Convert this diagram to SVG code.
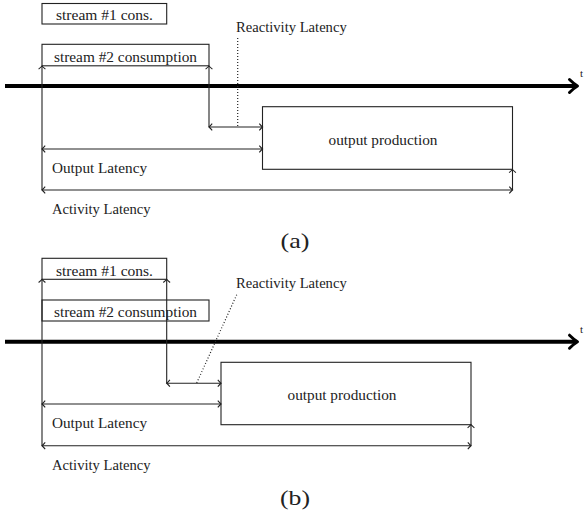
<svg xmlns="http://www.w3.org/2000/svg" width="584" height="517" viewBox="0 0 584 517">
  <style>
    .box { fill: #fff; stroke: #222; stroke-width: 1.1; }
    .dim { fill: none; stroke: #222; stroke-width: 1.1; marker-end: url(#tip); }
    .dim2 { fill: none; stroke: #222; stroke-width: 1.1; marker-start: url(#tip); marker-end: url(#tip); }
    .dot { fill: none; stroke: #222; stroke-width: 1.2; stroke-dasharray: 1 2; }
    .axis { fill: none; stroke: #000; stroke-width: 4; }
    .head { fill: none; stroke: #000; stroke-width: 3; stroke-linecap: round; stroke-linejoin: round; }
    text { font-family: "Liberation Serif", "DejaVu Serif", serif; font-size: 14px; fill: #222; }
    .mid { text-anchor: middle; }
    .cap { font-size: 22px; }
    .t { font-size: 11px; }
  </style>
  <defs>
    <marker id="tip" markerUnits="userSpaceOnUse" markerWidth="10" markerHeight="10" viewBox="-5 -5 10 10" refX="0" refY="0" orient="auto-start-reverse">
      <path d="M-3.2,-3.4 Q-1,-0.8 0,0 Q-1,0.8 -3.2,3.4" fill="none" stroke="#222" stroke-width="1.1"/>
    </marker>
  </defs>

  <!-- (a) -->
  <g id="a-stream1">
    <rect class="box" x="42" y="3.5" width="124.7" height="20.5"/>
    <text class="mid" x="104.5" y="19.5" textLength="97" lengthAdjust="spacingAndGlyphs">stream #1 cons.</text>
  </g>
  <g id="a-stream2">
    <rect class="box" x="42" y="44.3" width="167" height="21.5"/>
    <text class="mid" x="125.5" y="61.5" textLength="143" lengthAdjust="spacingAndGlyphs">stream #2 consumption</text>
  </g>
  <g id="a-output">
    <rect class="box" x="262.5" y="106.7" width="250" height="62.6"/>
    <text class="mid" x="383" y="145" textLength="109" lengthAdjust="spacingAndGlyphs">output production</text>
  </g>
  <g id="a-axis">
    <line class="axis" x1="5" y1="86" x2="575" y2="86"/>
    <path class="head" d="M569.5,79.5 Q574,84 577.5,86 Q574,88 569.5,92.5"/>
    <text class="t" x="580" y="77">t</text>
  </g>
  <g id="a-labels">
    <text x="236" y="32" textLength="110.7" lengthAdjust="spacingAndGlyphs">Reactivity Latency</text>
    <text x="52" y="173" textLength="95" lengthAdjust="spacingAndGlyphs">Output Latency</text>
    <text x="52" y="214" textLength="98.5" lengthAdjust="spacingAndGlyphs">Activity Latency</text>
    <text class="mid cap" x="295" y="248" textLength="29" lengthAdjust="spacingAndGlyphs">(a)</text>
  </g>
  <g id="a-connectors">
    <path class="dim" d="M42,190 V66"/>
    <path class="dim" d="M209,127 V66"/>
    <path class="dim2" d="M209,127 H262.5"/>
    <path class="dot" d="M237.7,38 V127"/>
    <path class="dim2" d="M42,149 H262.5"/>
    <path class="dim2" d="M42,190 H512.5"/>
    <path class="dim" d="M512.5,190 V169.5"/>
  </g>

  <!-- (b) -->
  <g id="b-stream1">
    <rect class="box" x="42" y="258.3" width="124.7" height="21"/>
    <text class="mid" x="104.5" y="275.5" textLength="97" lengthAdjust="spacingAndGlyphs">stream #1 cons.</text>
  </g>
  <g id="b-stream2">
    <rect class="box" x="42" y="300" width="167" height="21"/>
    <text class="mid" x="125.5" y="316.7" textLength="143" lengthAdjust="spacingAndGlyphs">stream #2 consumption</text>
  </g>
  <g id="b-output">
    <rect class="box" x="221" y="362.3" width="250" height="62.4"/>
    <text class="mid" x="342" y="400" textLength="109" lengthAdjust="spacingAndGlyphs">output production</text>
  </g>
  <g id="b-axis">
    <line class="axis" x1="5" y1="341.7" x2="575" y2="341.7"/>
    <path class="head" d="M569.5,335.2 Q574,339.7 577.5,341.7 Q574,343.7 569.5,348.2"/>
    <text class="t" x="580" y="332.5">t</text>
  </g>
  <g id="b-labels">
    <text x="236" y="287.5" textLength="110.7" lengthAdjust="spacingAndGlyphs">Reactivity Latency</text>
    <text x="52" y="427.5" textLength="95" lengthAdjust="spacingAndGlyphs">Output Latency</text>
    <text x="52" y="470" textLength="98.5" lengthAdjust="spacingAndGlyphs">Activity Latency</text>
    <text class="mid cap" x="295" y="505" textLength="30" lengthAdjust="spacingAndGlyphs">(b)</text>
  </g>
  <g id="b-connectors">
    <path class="dim" d="M42,445.7 V279.3"/>
    <path class="dim" d="M166.7,383.3 V279.3"/>
    <path class="dim2" d="M166.7,383.3 H221"/>
    <path class="dot" d="M196.7,383 L237.5,293"/>
    <path class="dim2" d="M42,404 H221"/>
    <path class="dim2" d="M42,445.7 H471"/>
    <path class="dim" d="M471,445.7 V424.7"/>
  </g>
</svg>
